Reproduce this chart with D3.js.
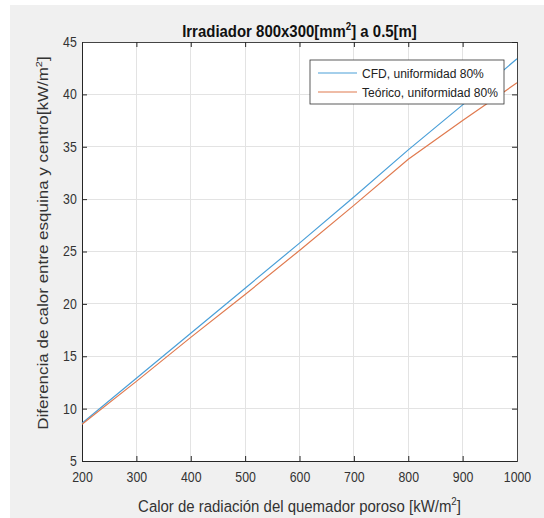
<!DOCTYPE html>
<html>
<head>
<meta charset="utf-8">
<script src="https://cdn.jsdelivr.net/npm/d3@7"></script>
<style>
  html, body { margin: 0; padding: 0; background: #ffffff; }
  svg { display: block; font-family: "Liberation Sans", Arial, sans-serif; }
</style>
</head>
<body>
<svg id="chart" width="544" height="518"></svg>
<script>
// Heat input of the porous burner (x) and corner-to-centre difference (y)
const radiacion = [200, 300, 400, 500, 600, 700, 800, 900, 1000];
const cfd      = [8.6, 12.9, 17.2, 21.5, 25.8, 30.2, 34.7, 39.0, 43.4];
const teorico  = [8.5, 12.6, 16.8, 20.9, 25.1, 29.4, 33.8, 37.5, 41.1];
const xTicks = [200, 300, 400, 500, 600, 700, 800, 900, 1000];
const yTicks = [5, 10, 15, 20, 25, 30, 35, 40, 45];
const seriesNames = ["CFD, uniformidad 80%", "Teórico, uniformidad 80%"];
const seriesColors = ["#4a9fd8", "#e07a4f"];

const svg = d3.select("#chart");
const W = 544, H = 518;
const m = { left: 82, right: 517, top: 42, bottom: 461 };
const sx = 0.88; // horizontal squeeze applied to all text

// figure background
svg.append("rect").attr("x", 10).attr("y", 5).attr("width", W - 10).attr("height", H - 5)
  .attr("fill", "#f0f0f0");

const x = d3.scaleLinear().domain([200, 1000]).range([m.left, m.right]);
const y = d3.scaleLinear().domain([5, 45]).range([m.bottom, m.top]);

// plot area
svg.append("rect").attr("x", m.left).attr("y", m.top)
  .attr("width", m.right - m.left).attr("height", m.bottom - m.top).attr("fill", "#ffffff");

// grid
const grid = svg.append("g");
grid.selectAll("line.gx").data(xTicks.slice(1, -1)).enter().append("line")
  .attr("x1", d => x(d)).attr("x2", d => x(d)).attr("y1", m.top).attr("y2", m.bottom)
  .attr("stroke", "#e3e3e3").attr("stroke-width", 1).attr("shape-rendering", "crispEdges");
grid.selectAll("line.gy").data(yTicks.slice(1, -1)).enter().append("line")
  .attr("y1", d => y(d)).attr("y2", d => y(d)).attr("x1", m.left).attr("x2", m.right)
  .attr("stroke", "#e3e3e3").attr("stroke-width", 1).attr("shape-rendering", "crispEdges");

// axes (ticks inward, on all four sides)
const tickCol = "#262626";
const xAxis = d3.axisBottom(x).tickValues(xTicks).tickSize(-5).tickPadding(11).tickFormat(d3.format("d"));
const yAxis = d3.axisLeft(y).tickValues(yTicks).tickSize(-5).tickPadding(6).tickFormat(d3.format("d"));
const gx = svg.append("g").attr("transform", `translate(0,${m.bottom})`).call(xAxis);
const gy = svg.append("g").attr("transform", `translate(${m.left},0)`).call(yAxis);
const gxTop = svg.append("g").attr("transform", `translate(0,${m.top})`)
  .call(d3.axisTop(x).tickValues(xTicks).tickSize(-5).tickFormat(""));
const gyRight = svg.append("g").attr("transform", `translate(${m.right},0)`)
  .call(d3.axisRight(y).tickValues(yTicks).tickSize(-5).tickFormat(""));
[gx, gy, gxTop, gyRight].forEach(g => {
  g.select(".domain").attr("stroke", tickCol).attr("stroke-width", 1);
  g.selectAll(".tick line").attr("stroke", tickCol);
  g.selectAll(".tick text").attr("fill", "#333").style("font-size", "14px")
    .style("font-family", "'Liberation Sans', Arial, sans-serif")
    .attr("transform", `scale(${sx},1)`);
});
gxTop.select(".domain").attr("stroke", "#444");
gyRight.select(".domain").attr("stroke", "#444");

// series
const line = d3.line().x(d => x(d[0])).y(d => y(d[1]));
[cfd, teorico].forEach((vals, i) => {
  svg.append("path")
    .datum(radiacion.map((r, k) => [r, vals[k]]))
    .attr("d", line).attr("fill", "none")
    .attr("stroke", seriesColors[i]).attr("stroke-width", 1.2);
});

// legend
const lg = svg.append("g").attr("transform", "translate(310,60)");
lg.append("rect").attr("width", 194).attr("height", 44).attr("fill", "#ffffff")
  .attr("stroke", "#333").attr("stroke-width", 0.8);
seriesNames.forEach((name, i) => {
  const yy = 13 + i * 19;
  lg.append("line").attr("x1", 8).attr("x2", 47).attr("y1", yy).attr("y2", yy)
    .attr("stroke", seriesColors[i]).attr("stroke-width", 1.2);
  lg.append("text").attr("transform", `translate(52,${yy + 5}) scale(${sx},1)`).text(name)
    .attr("fill", "#222").style("font-size", "13.7px");
});

// text with a superscript "2" between two parts
function supText(parent, before, after, size) {
  const t = parent.append("text").attr("text-anchor", "middle").style("font-size", size + "px");
  t.append("tspan").text(before);
  t.append("tspan").attr("dy", -0.42 * size).style("font-size", (size * 0.65) + "px").text("2");
  t.append("tspan").attr("dy", 0.42 * size).text(after);
  return t;
}

// title
const tg = svg.append("g").attr("transform", `translate(${(m.left + m.right) / 2},37) scale(${sx},1)`);
supText(tg, "Irradiador 800x300[mm", "] a 0.5[m]", 17).attr("fill", "#111").style("font-weight", "bold");

// x label
const xg = svg.append("g").attr("transform", `translate(${(m.left + m.right) / 2},512) scale(${sx},1)`);
supText(xg, "Calor de radiación del quemador poroso [kW/m", "]", 17).attr("fill", "#333");

// y label
const yg = svg.append("g").attr("transform", `translate(48,243) rotate(-90) scale(1,${sx})`);
supText(yg, "Diferencia de calor entre esquina y centro[kW/m", "]", 17).attr("fill", "#333");
</script>
</body>
</html>
